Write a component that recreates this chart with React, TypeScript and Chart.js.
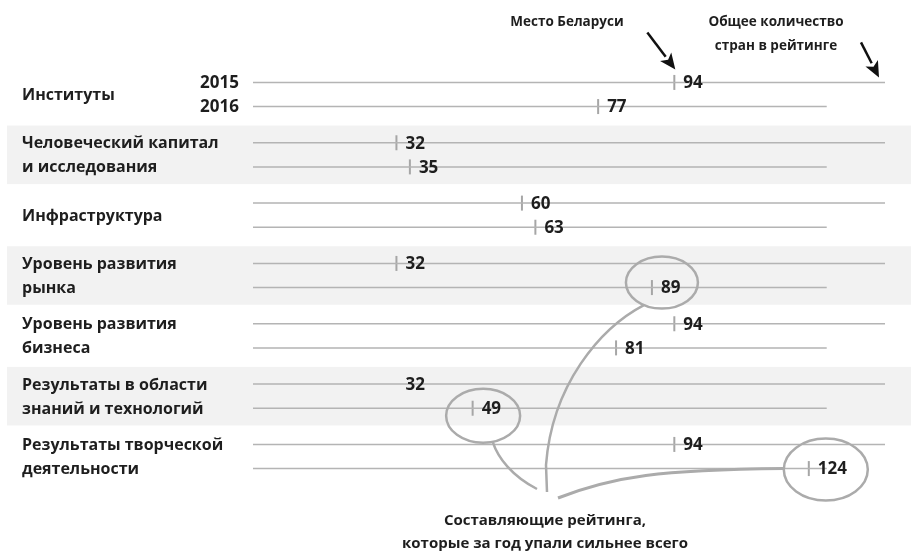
import React, { useEffect, useRef } from "react";
import { Chart, registerables } from "chart.js";

Chart.register(...registerables);

// ---- data ----
const categories: string[][] = [
  ["Институты"],
  ["Человеческий капитал", "и исследования"],
  ["Инфраструктура"],
  ["Уровень развития", "рынка"],
  ["Уровень развития", "бизнеса"],
  ["Результаты в области", "знаний и технологий"],
  ["Результаты творческой", "деятельности"],
];
const years = ["2015", "2016"];
const rank2015 = [94, 32, 60, 32, 94, 32, 94];
const rank2016 = [77, 35, 63, 89, 81, 49, 124];
const totalCountries = [141, 128]; // 2015, 2016
const biggestDrops = [3, 5, 6]; // categories that fell most in 2016
const hiddenTick2015 = [5]; // tick not drawn in the original

const headerPlace = "Место Беларуси";
const headerTotal = ["Общее количество", "стран в рейтинге"];
const footer = ["Составляющие рейтинга,", "которые за год упали сильнее всего"];

const FONT = "'Open Sans', 'Noto Sans', sans-serif";
const TEXT = "#1e1e1e";
const LINE = "#b4b4b4";
const TICK = "#a6a6a6";
const BAND = "#f2f2f2";
const ANNO = "#ababab";
const OFF = [-0.2, 0.2];
const ranks = [rank2015, rank2016];

function arrow(ctx: CanvasRenderingContext2D, x1: number, y1: number, x2: number, y2: number) {
  const a = Math.atan2(y2 - y1, x2 - x1);
  const hl = 16, hw = 7;
  const bx = x2 - hl * Math.cos(a), by = y2 - hl * Math.sin(a);
  ctx.save();
  ctx.strokeStyle = "#111";
  ctx.fillStyle = "#111";
  ctx.lineWidth = 2.5;
  ctx.beginPath();
  ctx.moveTo(x1, y1);
  ctx.lineTo(bx, by);
  ctx.stroke();
  ctx.beginPath();
  ctx.moveTo(x2, y2);
  ctx.lineTo(bx + hw * Math.sin(a), by - hw * Math.cos(a));
  ctx.lineTo(bx + 4 * Math.cos(a), by + 4 * Math.sin(a));
  ctx.lineTo(bx - hw * Math.sin(a), by + hw * Math.cos(a));
  ctx.closePath();
  ctx.fill();
  ctx.restore();
}

const decoPlugin = {
  id: "deco",
  beforeDatasetsDraw(chart: any) {
    const { ctx, scales } = chart;
    const y = scales.y;
    ctx.save();
    ctx.fillStyle = BAND;
    categories.forEach((_, i) => {
      if (i % 2 === 1) {
        const t = y.getPixelForValue(i - 0.485);
        const b = y.getPixelForValue(i + 0.485);
        ctx.fillRect(7, t, chart.width - 7, b - t);
      }
    });
    ctx.restore();
  },
  afterDatasetsDraw(chart: any) {
    const { ctx, scales } = chart;
    const xs = scales.x, ys = scales.y;
    ctx.save();
    ctx.fillStyle = TEXT;
    ctx.textBaseline = "middle";
    // category labels
    ctx.font = `bold 16px ${FONT}`;
    ctx.textAlign = "left";
    categories.forEach((lines, i) => {
      if (lines.length === 1) {
        ctx.fillText(lines[0], 22, ys.getPixelForValue(i) + 1);
      } else {
        lines.forEach((l, k) => ctx.fillText(l, 22, ys.getPixelForValue(i + OFF[k]) + 1));
      }
    });
    // year labels
    ctx.font = `bold 17px ${FONT}`;
    ctx.textAlign = "right";
    years.forEach((yr, k) => ctx.fillText(yr, 239, ys.getPixelForValue(OFF[k]) + 1));
    // value labels
    ctx.textAlign = "left";
    ranks.forEach((arr, k) => {
      arr.forEach((v, i) => {
        ctx.fillText(String(v), xs.getPixelForValue(v) + 9, ys.getPixelForValue(i + OFF[k]) + 1);
      });
    });
    // headers
    ctx.font = `bold 13.5px ${FONT}`;
    ctx.textAlign = "center";
    ctx.fillText(headerPlace, 567, 22);
    headerTotal.forEach((l, k) => ctx.fillText(l, 776, 22 + k * 24));
    ctx.font = `bold 15px ${FONT}`;
    footer.forEach((l, k) => ctx.fillText(l, 545, 521 + k * 23));

    // arrows
    const tipX = xs.getPixelForValue(rank2015[0]);
    const tipY = ys.getPixelForValue(OFF[0]);
    arrow(ctx, tipX - 27, tipY - 50, tipX + 1, tipY - 13);
    const endX = xs.getPixelForValue(totalCountries[0]);
    arrow(ctx, endX - 24, tipY - 40, endX - 6, tipY - 5);

    // ellipses around the biggest drops
    const geo = [
      { dx: 10, dy: -5, rx: 36, ry: 26 },
      { dx: 10.5, dy: 7.5, rx: 37, ry: 27 },
      { dx: 17, dy: 1, rx: 42, ry: 31 },
    ];
    const ell = biggestDrops.map((i, n) => {
      const v = rank2016[i];
      const g = geo[n];
      return {
        cx: xs.getPixelForValue(v) + g.dx,
        cy: ys.getPixelForValue(i + OFF[1]) + g.dy,
        rx: g.rx,
        ry: g.ry,
      };
    });
    ctx.strokeStyle = ANNO;
    ctx.lineWidth = 2.5;
    ell.forEach((e) => {
      ctx.beginPath();
      ctx.ellipse(e.cx, e.cy, e.rx, e.ry, 0, 0, Math.PI * 2);
      ctx.stroke();
    });
    // connectors
    const e0 = ell[0], e1 = ell[1], e2 = ell[2];
    const a0 = (120 * Math.PI) / 180;
    ctx.beginPath();
    ctx.moveTo(e0.cx + e0.rx * Math.cos(a0), e0.cy + e0.ry * Math.sin(a0));
    ctx.bezierCurveTo(600, 328, 552, 385, 546, 465);
    ctx.lineTo(547, 492);
    ctx.stroke();
    const a1 = (75 * Math.PI) / 180;
    ctx.beginPath();
    ctx.moveTo(e1.cx + e1.rx * Math.cos(a1), e1.cy + e1.ry * Math.sin(a1));
    ctx.bezierCurveTo(498, 458, 512, 476, 537, 489);
    ctx.stroke();
    ctx.lineWidth = 3;
    ctx.beginPath();
    ctx.moveTo(558, 498);
    ctx.bezierCurveTo(615, 476, 660, 470, e2.cx - e2.rx, e2.cy - 1);
    ctx.stroke();
    ctx.restore();
  },
};

export default function App() {
  const ref = useRef<HTMLCanvasElement | null>(null);
  useEffect(() => {
    if (!ref.current) return;
    const scaleSets = totalCountries.map((tot, k) => ({
      type: "scatter" as const,
      showLine: true,
      borderColor: LINE,
      borderWidth: 1.5,
      pointRadius: 0,
      spanGaps: false,
      data: categories.flatMap((_, i) => [
        { x: 0, y: i + OFF[k] },
        { x: tot, y: i + OFF[k] },
        { x: tot, y: null as any },
      ]),
    }));
    const tickSets = ranks.map((arr, k) => ({
      type: "scatter" as const,
      showLine: false,
      pointStyle: "line" as const,
      rotation: 90,
      pointRadius: arr.map((_, i) => (k === 0 && hiddenTick2015.includes(i) ? 0 : 7.5)),
      borderWidth: 2,
      borderColor: TICK,
      data: arr.map((v, i) => ({ x: v, y: i + OFF[k] })),
    }));
    const chart = new Chart(ref.current, {
      type: "scatter",
      data: { datasets: [...scaleSets, ...tickSets] as any },
      options: {
        animation: false,
        responsive: false,
        devicePixelRatio: 1,
        layout: { autoPadding: false, padding: { left: 253, right: 26, top: 4, bottom: 6 } },
        plugins: { legend: { display: false }, tooltip: { enabled: false } },
        scales: {
          x: { type: "linear", min: 0, max: 141, display: false },
          y: { type: "linear", min: -1.5, max: 7.5, reverse: true, display: false },
        },
      },
      plugins: [decoPlugin],
    });
    return () => chart.destroy();
  }, []);
  return (
    <div style={{ position: "absolute", left: 0, top: 0, width: 911, height: 553, background: "#fff" }}>
      <canvas ref={ref} width={911} height={553} />
    </div>
  );
}
